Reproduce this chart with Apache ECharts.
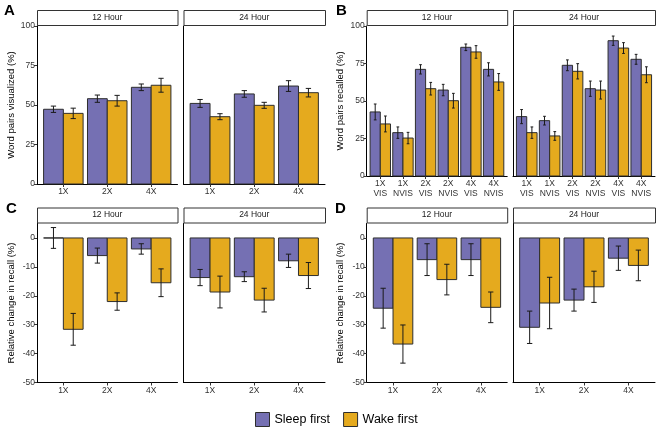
<!DOCTYPE html>
<html>
<head>
<meta charset="utf-8">
<script src="https://cdn.jsdelivr.net/npm/echarts@6/dist/echarts.min.js"></script>
<style>html,body{margin:0;padding:0;background:#fff}#c{width:660px;height:428px}</style>
</head>
<body>
<div id="c"></div>
<script>
// ---------- data ----------
const cats3 = ['1X', '2X', '4X'];
const cats6 = ['1X\nVIS', '1X\nNVIS', '2X\nVIS', '2X\nNVIS', '4X\nVIS', '4X\nNVIS'];
const facetNames = ['12 Hour', '24 Hour'];
const groupNames = ['Sleep first', 'Wake first'];
const panelLetters = ['A', 'B', 'C', 'D'];
const yTitles = ['Word pairs visualized (%)', 'Word pairs recalled (%)', 'Relative change in recall (%)', 'Relative change in recall (%)'];
const pctTicks = [0, 25, 50, 75, 100];
const changeTicks = [-50, -40, -30, -20, -10, 0];

// Panel A: word pairs visualized
const A12_sleep = [47.3, 54.0, 61.2];   const A12_sleepErr = [2.0, 2.3, 2.1];
const A12_wake  = [44.7, 52.7, 62.5];   const A12_wakeErr  = [3.3, 3.4, 4.4];
const A24_sleep = [51.0, 57.0, 62.0];   const A24_sleepErr = [2.5, 2.1, 3.4];
const A24_wake  = [42.6, 49.8, 57.8];   const A24_wakeErr  = [1.9, 1.9, 2.7];
// Panel B: word pairs recalled
const B12_sleep = [42.7, 28.9, 71.1, 57.3, 85.8, 71.1]; const B12_sleepErr = [5.3, 3.8, 3.1, 3.8, 2.2, 4.4];
const B12_wake  = [34.7, 25.3, 58.2, 50.2, 82.7, 62.7]; const B12_wakeErr  = [5.3, 3.8, 4.2, 4.9, 4.2, 5.6];
const B24_sleep = [39.6, 36.9, 73.8, 58.2, 90.2, 77.8]; const B24_sleepErr = [4.7, 2.9, 3.6, 5.1, 3.1, 3.3];
const B24_wake  = [28.9, 26.7, 69.8, 57.3, 85.3, 67.5]; const B24_wakeErr  = [3.8, 2.9, 5.1, 6.0, 3.6, 5.3];
// Panel C: relative change in recall
const C12_sleep = [0.0, -6.1, -3.8];    const C12_sleepErr = [3.6, 2.6, 1.8];
const C12_wake  = [-31.6, -22.0, -15.5]; const C12_wakeErr = [5.5, 3.0, 4.8];
const C24_sleep = [-13.7, -13.4, -7.9]; const C24_sleepErr = [2.8, 1.7, 2.3];
const C24_wake  = [-18.7, -21.5, -13.0]; const C24_wakeErr = [5.5, 4.1, 4.5];
// Panel D: relative change in recall
const D12_sleep = [-24.3, -7.5, -7.5];  const D12_sleepErr = [6.9, 5.5, 5.5];
const D12_wake  = [-36.7, -14.4, -24.0]; const D12_wakeErr = [6.6, 5.3, 5.3];
const D24_sleep = [-30.9, -21.5, -7.0]; const D24_sleepErr = [5.6, 3.8, 4.2];
const D24_wake  = [-22.5, -16.9, -9.5]; const D24_wakeErr  = [8.9, 5.4, 5.3];

// ---------- styling / layout ----------
const COLORS = ['#7570B3', '#E5AA1E'];
const BORDER = '#2e2e2e';
const FONT = 'Liberation Sans, Arial, Helvetica, sans-serif';
const colsLeft = [[37, 140.5], [183.5, 141.5]];
const colsRight = [[366.7, 140.5], [513, 142]];
const rowsTop = [[26, 158], [26, 150]];        // A, B
const rowsBottom = [[223.5, 159], [223.5, 159]]; // C, D

const panels = [
  { cats: cats3, cols: colsLeft, row: rowsTop[0], yMin: 0, yMax: 100, ticks: pctTicks, stripTop: 10,
    facets: [[A12_sleep, A12_sleepErr, A12_wake, A12_wakeErr], [A24_sleep, A24_sleepErr, A24_wake, A24_wakeErr]], letterPos: [4, 3] },
  { cats: cats6, cols: colsRight, row: rowsTop[1], yMin: 0, yMax: 100, ticks: pctTicks, stripTop: 10,
    facets: [[B12_sleep, B12_sleepErr, B12_wake, B12_wakeErr], [B24_sleep, B24_sleepErr, B24_wake, B24_wakeErr]], letterPos: [336, 3] },
  { cats: cats3, cols: colsLeft, row: rowsBottom[0], yMin: -50, yMax: 5, ticks: changeTicks, stripTop: 207.5,
    facets: [[C12_sleep, C12_sleepErr, C12_wake, C12_wakeErr], [C24_sleep, C24_sleepErr, C24_wake, C24_wakeErr]], letterPos: [6, 201] },
  { cats: cats3, cols: colsRight, row: rowsBottom[1], yMin: -50, yMax: 5, ticks: changeTicks, stripTop: 207.5,
    facets: [[D12_sleep, D12_sleepErr, D12_wake, D12_wakeErr], [D24_sleep, D24_sleepErr, D24_wake, D24_wakeErr]], letterPos: [335, 201] }
];

const grids = [], xAxes = [], yAxes = [], series = [], graphics = [];
const BARW = 0.45, CAP = 0.06;

function barRender(off, color) {
  return function (params, api) {
    const x = api.value(0), y = api.value(1);
    const a = api.coord([x + off, 0]);
    const b = api.coord([x + off + BARW, y]);
    return { type: 'rect',
      shape: { x: a[0], y: Math.min(a[1], b[1]), width: b[0] - a[0], height: Math.abs(b[1] - a[1]) },
      style: { fill: color, stroke: BORDER, lineWidth: 1 } };
  };
}
function errRender(off) {
  return function (params, api) {
    const xc = api.value(0) + off + BARW / 2;
    const lo = api.value(1), hi = api.value(2);
    const pLo = api.coord([xc, lo]), pHi = api.coord([xc, hi]);
    const l = api.coord([xc - CAP, lo])[0], r = api.coord([xc + CAP, lo])[0];
    const st = { stroke: '#1a1a1a', lineWidth: 1 };
    return { type: 'group', children: [
      { type: 'line', shape: { x1: pLo[0], y1: pLo[1], x2: pHi[0], y2: pHi[1] }, style: st },
      { type: 'line', shape: { x1: l, y1: pLo[1], x2: r, y2: pLo[1] }, style: st },
      { type: 'line', shape: { x1: l, y1: pHi[1], x2: r, y2: pHi[1] }, style: st }
    ] };
  };
}

panels.forEach((p, pi) => {
  graphics.push({ type: 'text', left: p.letterPos[0], top: p.letterPos[1],
    style: { text: panelLetters[pi], font: 'bold 15px ' + FONT, fill: '#000' } });
  p.facets.forEach((f, fi) => {
    const gi = grids.length;
    const [left, width] = p.cols[fi];
    const [top, height] = p.row;
    grids.push({ left, top, width, height, containLabel: false, outerBoundsMode: 'none' });
    const tickVals = p.cats.map((c, i) => i + 1);
    xAxes.push({ type: 'value', gridIndex: gi, min: 0.4, max: p.cats.length + 0.6,
      axisLine: { show: true, onZero: false, lineStyle: { color: '#000', width: 1 } },
      axisTick: { show: true, customValues: tickVals, length: 3, lineStyle: { color: '#333' } },
      axisLabel: { show: true, customValues: tickVals, formatter: v => p.cats[Math.round(v) - 1] || '',
        fontSize: 8.5, color: '#333', margin: 3, fontFamily: FONT, lineHeight: 10 },
      splitLine: { show: false } });
    yAxes.push({ type: 'value', gridIndex: gi, min: p.yMin, max: p.yMax,
      axisLine: { show: true, onZero: false, lineStyle: { color: '#000', width: 1 } },
      axisTick: { show: fi === 0, customValues: p.ticks, length: 3, lineStyle: { color: '#333' } },
      axisLabel: { show: fi === 0, customValues: p.ticks, fontSize: 8.5, color: '#333', margin: 2, fontFamily: FONT },
      splitLine: { show: false },
      name: fi === 0 ? yTitles[pi] : '', nameLocation: 'middle', nameGap: 21,
      nameTextStyle: { fontSize: 9.5, color: '#000', fontFamily: FONT } });
    // strip
    graphics.push({ type: 'rect', left: left, top: p.stripTop,
      shape: { x: 0, y: 0, width: width, height: top - 1 - p.stripTop },
      style: { fill: '#fff', stroke: '#333', lineWidth: 1 } });
    graphics.push({ type: 'text', x: left + width / 2, y: p.stripTop + (top - 1 - p.stripTop) / 2,
      style: { text: facetNames[fi], font: '8.5px ' + FONT, fill: '#1a1a1a', textAlign: 'center', textVerticalAlign: 'middle' } });
    const groups = [[f[0], f[1]], [f[2], f[3]]];
    groups.forEach((g, k) => {
      const off = k === 0 ? -BARW : 0;
      series.push({ type: 'custom', name: groupNames[k], xAxisIndex: gi, yAxisIndex: gi,
        itemStyle: { color: COLORS[k], borderColor: BORDER, borderWidth: 1 },
        renderItem: barRender(off, COLORS[k]), encode: { x: 0, y: 1 },
        data: g[0].map((v, i) => [i + 1, v]) });
    });
    groups.forEach((g, k) => {
      const off = k === 0 ? -BARW : 0;
      series.push({ type: 'custom', name: 'err' + gi + '_' + k, xAxisIndex: gi, yAxisIndex: gi,
        renderItem: errRender(off), encode: { x: 0, y: [1, 2] }, z: 3,
        data: g[0].map((v, i) => [i + 1, v - g[1][i], v + g[1][i]]) });
    });
  });
});

const chart = echarts.init(document.getElementById('c'), null, { renderer: 'canvas' });
chart.setOption({
  animation: false,
  backgroundColor: '#fff',
  textStyle: { fontFamily: FONT },
  grid: grids, xAxis: xAxes, yAxis: yAxes, series: series,
  legend: { data: groupNames.map(n => ({ name: n, icon: 'rect' })), left: 255, top: 412,
    itemWidth: 14, itemHeight: 14, itemGap: 13, padding: 0,
    textStyle: { fontSize: 12.5, color: '#000', fontFamily: FONT },
    itemStyle: { borderColor: BORDER, borderWidth: 1 } },
  graphic: graphics
});
</script>
</body>
</html>
